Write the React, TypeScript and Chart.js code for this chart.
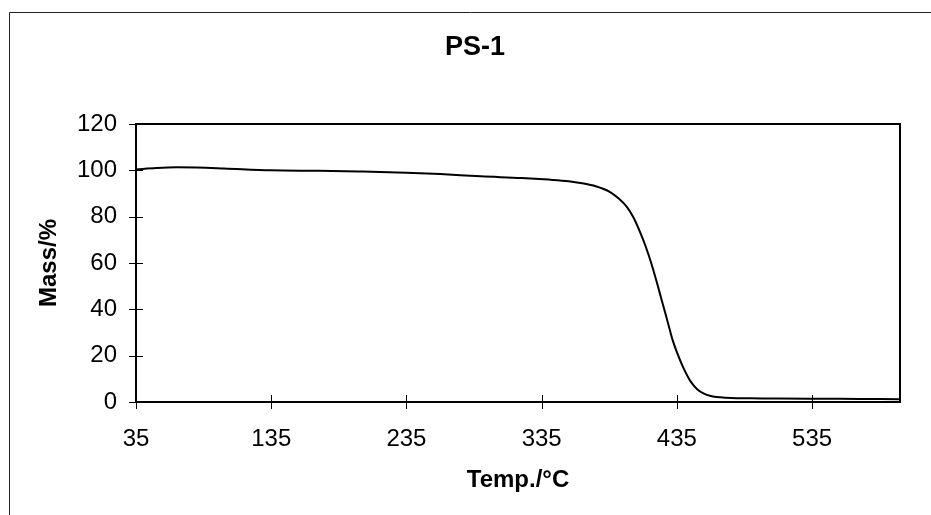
import React, { useEffect, useRef } from "react";
import { Chart, registerables } from "chart.js";

Chart.register(...registerables);

const chartTitle = "PS-1";
const xAxisTitle = "Temp./°C";
const yAxisTitle = "Mass/%";

const temperatures = [35, 50, 65, 80, 100, 135, 170, 200, 235, 260, 290, 320, 340, 355, 365, 375, 385, 392, 398, 403, 408, 412, 416, 420, 424, 428, 432, 436, 440, 445, 450, 455, 460, 467, 475, 490, 510, 540, 570, 600];
const massPercent = [100.4, 101.0, 101.3, 101.2, 100.8, 100.0, 99.8, 99.5, 99.0, 98.4, 97.4, 96.7, 96.0, 95.3, 94.4, 93.1, 90.8, 87.8, 84.2, 79.5, 73, 67, 60, 52, 43.5, 35, 26.5, 20, 14.5, 9, 5.5, 3.6, 2.6, 2.0, 1.7, 1.6, 1.5, 1.4, 1.3, 1.2];

const xTicks = [35, 135, 235, 335, 435, 535];
const xMin = 35;
const xMax = 600;
const yMin = 0;
const yMax = 120;
const yStep = 20;

const FONT = "'Liberation Sans', Arial, sans-serif";

const framePlugin = {
  id: "frame",
  beforeDraw(chart: any) {
    const ctx = chart.ctx;
    ctx.save();
    ctx.strokeStyle = "#222";
    ctx.lineWidth = 1;
    ctx.beginPath();
    ctx.moveTo(9.5, 515);
    ctx.lineTo(9.5, 12.5);
    ctx.lineTo(931, 12.5);
    ctx.stroke();
    ctx.restore();
  },
  afterDatasetsDraw(chart: any) {
    const { ctx, chartArea } = chart;
    const { left, right, top, bottom } = chartArea;
    const xs = chart.scales.x;
    const ys = chart.scales.y;
    ctx.save();
    ctx.strokeStyle = "#000";
    ctx.lineWidth = 1;
    ctx.beginPath();
    ys.ticks.forEach((t: any) => {
      const py = Math.round(ys.getPixelForValue(t.value)) + 0.5;
      ctx.moveTo(left - 7, py);
      ctx.lineTo(left + 7, py);
    });
    xs.ticks.forEach((t: any) => {
      const px = Math.round(xs.getPixelForValue(t.value)) + 0.5;
      ctx.moveTo(px, bottom - 7);
      ctx.lineTo(px, bottom + 7);
    });
    ctx.stroke();
    ctx.lineWidth = 2;
    ctx.strokeRect(left, top, right - left, bottom - top);
    ctx.restore();
  },
};

export default function App() {
  const canvasRef = useRef<HTMLCanvasElement | null>(null);

  useEffect(() => {
    if (!canvasRef.current) return;
    const chart = new Chart(canvasRef.current, {
      type: "line",
      data: {
        datasets: [
          {
            label: chartTitle,
            data: temperatures.map((t, i) => ({ x: t, y: massPercent[i] })),
            borderColor: "#000",
            borderWidth: 2,
            pointRadius: 0,
            fill: false,
            tension: 0.4,
            cubicInterpolationMode: "monotone",
          },
        ],
      },
      options: {
        responsive: false,
        animation: false,
        layout: { padding: { left: 50, right: 31, top: 0, bottom: 0 } },
        plugins: {
          legend: { display: false },
          tooltip: { enabled: false },
          title: {
            display: true,
            text: chartTitle,
            color: "#000",
            font: { family: FONT, size: 27, weight: "bold" },
            padding: { top: 31, bottom: 60.6 },
          },
        },
        scales: {
          x: {
            type: "linear",
            min: xMin,
            max: xMax,
            afterBuildTicks: (scale: any) => {
              scale.ticks = xTicks.map((v) => ({ value: v }));
            },
            afterFit: (scale: any) => {
              scale.height = 113;
            },
            grid: { display: false },
            border: { display: false },
            ticks: {
              color: "#000",
              font: { family: FONT, size: 24 },
              padding: 15,
              maxRotation: 0,
              autoSkip: false,
            },
            title: {
              display: true,
              text: xAxisTitle,
              color: "#000",
              font: { family: FONT, size: 24, weight: "bold" },
              padding: { top: 0, bottom: 20 },
            },
          },
          y: {
            min: yMin,
            max: yMax,
            afterFit: (scale: any) => {
              scale.width = 86;
            },
            grid: { display: false },
            border: { display: false },
            ticks: {
              stepSize: yStep,
              color: "#000",
              font: { family: FONT, size: 24 },
              padding: 11,
            },
            title: {
              display: true,
              text: yAxisTitle,
              color: "#000",
              font: { family: FONT, size: 24, weight: "bold" },
              padding: { top: -15, bottom: 0 },
            },
          },
        },
      },
      plugins: [framePlugin],
    } as any);
    return () => chart.destroy();
  }, []);

  return (
    <div style={{ position: "fixed", left: 0, top: 0, width: 931, height: 515, background: "#fff" }}>
      <canvas ref={canvasRef} width={931} height={515} style={{ width: 931, height: 515, display: "block" }} />
    </div>
  );
}
